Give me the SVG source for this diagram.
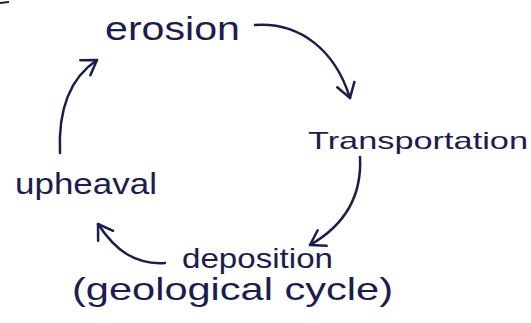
<svg xmlns="http://www.w3.org/2000/svg" width="531" height="323" viewBox="0 0 531 323">
  <defs>
    <style>
      .lbl { font-family: "Liberation Sans", "DejaVu Sans", sans-serif; fill: #1d1d4d; }
      .con { fill: none; stroke: #1d1d4d; stroke-width: 2.5; stroke-linecap: round; marker-end: url(#ah); }
    </style>
    <marker id="ah" markerUnits="userSpaceOnUse" markerWidth="30" markerHeight="30" viewBox="-20 -15 30 30" refX="0" refY="0" orient="auto" overflow="visible">
      <path d="M-14,-9 L0,0 L-14,9" fill="none" stroke="#1d1d4d" stroke-width="2.5" stroke-linecap="round" stroke-linejoin="round"/>
    </marker>
  </defs>
  <rect width="531" height="323" fill="#ffffff"/>
  <path d="M0,3 L9,2" fill="none" stroke="#1d1d4d" stroke-width="2"/>
  <g id="connectors">
    <path class="con" d="M255,25 C300,22 335,50 350,98"/>
    <path class="con" d="M360,157 C362,195 345,225 310,245"/>
    <path class="con" d="M165,263 C135,265 115,250 98,224"/>
    <path class="con" d="M60,153 C58,110 70,78 97,60"/>
  </g>
  <g id="erosion">
    <text class="lbl" x="105" y="40" font-size="34" textLength="135" lengthAdjust="spacingAndGlyphs">erosion</text>
  </g>
  <g id="transportation">
    <text class="lbl" x="308" y="149" font-size="24" textLength="220" lengthAdjust="spacingAndGlyphs">Transportation</text>
  </g>
  <g id="deposition">
    <text class="lbl" x="182" y="268" font-size="28" textLength="151" lengthAdjust="spacingAndGlyphs">deposition</text>
    <text class="lbl" x="72" y="300" font-size="32" textLength="321" lengthAdjust="spacingAndGlyphs">(geological cycle)</text>
  </g>
  <g id="upheaval">
    <text class="lbl" x="15" y="194" font-size="30" textLength="142" lengthAdjust="spacingAndGlyphs">upheaval</text>
  </g>
</svg>
